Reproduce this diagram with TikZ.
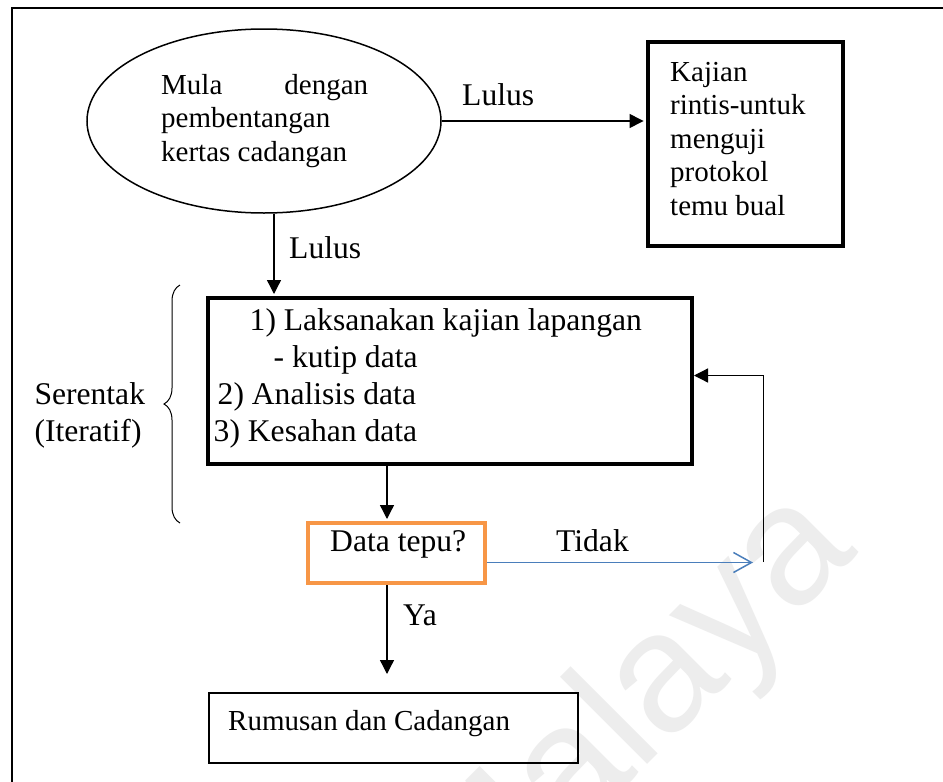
\documentclass[tikz,border=0pt]{standalone}
\usepackage{fontspec}
\setmainfont{Liberation Serif}
\newfontfamily\markfont{Liberation Sans}
\usetikzlibrary{arrows.meta,decorations.pathreplacing,shapes.geometric}
\definecolor{tepuorange}{RGB}{247,150,70}
\definecolor{tidakblue}{RGB}{74,126,187}
\definecolor{markgray}{RGB}{237,237,237}
\newcommand\txtsmall{\fontsize{29}{33.5}\selectfont}
\newcommand\txtlarge{\fontsize{31.6}{37}\selectfont}

\begin{document}
\begin{tikzpicture}[x=1pt,y=-1pt,
  box/.style={draw, rectangle, inner sep=0pt},
  txt/.style={inner sep=0pt, anchor=base west},
  link/.style={line width=1.3pt, -{Triangle[length=14pt,width=14pt]}},
]
\useasboundingbox (0,0) rectangle (943,782);
\fill[white] (0,0) rectangle (943,782);

% faint watermark and page frame
\begin{scope}
  \clip (0,0) rectangle (943,782);
  \node[txt, rotate=45, text=markgray, font=\markfont\fontsize{170}{170}\selectfont] (mark) at (472,940) {Malaya};
  \draw[line width=2pt] (960,7.5) -- (12,7.5) -- (12,800);
\end{scope}

% start: proposal defence
\node[draw, ellipse, line width=1.5pt, minimum width=354pt, minimum height=184pt, inner sep=0pt] (start) at (264,121) {};
\node[txt, font=\txtsmall] (starttext) at (161,94)
  {\parbox[t]{207pt}{\makebox[207pt][l]{Mula\hfill dengan}\\ pembentangan\\ kertas cadangan}};

% pilot study
\node[box, line width=4.5pt, minimum width=195pt, minimum height=204pt] (pilot) at (745.5,144) {};
\node[txt, font=\txtsmall] (pilottext) at (670,81)
  {\parbox[t]{160pt}{Kajian\\ rintis-untuk\\ menguji\\ protokol\\ temu bual}};

% field work
\node[box, line width=4pt, minimum width=484pt, minimum height=166pt] (field) at (450,381) {};
\node[txt, font=\txtlarge] (fieldtext) at (213.5,330)
  {\parbox[t]{460pt}{\hspace*{36pt}1) Laksanakan kajian lapangan\\
   \hspace*{60pt}- kutip data\\
   \hspace*{4pt}2) Analisis data\\
   3) Kesahan data}};

% simultaneous (iterative) brace
\node[txt, font=\txtlarge] (together) at (34.3,404) {\parbox[t]{140pt}{Serentak\\ (Iteratif)}};
\draw[line width=1pt, decorate, decoration={brace, amplitude=16pt}] (180,523) -- (180,285);

% saturation check
\node[box, draw=tepuorange, line width=4pt, minimum width=177pt, minimum height=60pt] (sat) at (396.5,553) {};
\node[txt, font=\txtlarge] (sattext) at (330,551) {Data tepu?};

% conclusions
\node[box, line width=2pt, minimum width=369pt, minimum height=70pt] (result) at (393,728) {};
\node[txt, font=\txtsmall] (resulttext) at (228,730) {Rumusan dan Cadangan};

% helper coordinates for connectors
\coordinate (xa) at (274,0);
\coordinate (xb) at (387,0);
\coordinate (nodata) at (753,562.5);
\coordinate (loopfoot) at (763.3,562);
\coordinate (looptop) at (763.3,375.5);

% connectors
\draw[link, shorten >=2.2pt] (start.east) -- (start.east -| pilot.west);
\draw[link, shorten >=2pt] (start.south -| xa) -- (field.north -| xa);
\draw[link, shorten >=2pt] (field.south -| xb) -- (sat.north -| xb);
\draw[link, shorten >=18pt] (sat.south -| xb) -- (result.north -| xb);
\draw[tidakblue, line width=1.5pt, -{Straight Barb[length=18pt,width=20pt]}] (sat.east |- nodata) -- (nodata);
\draw[link] (loopfoot) -- (looptop) -- (field.east |- looptop);

% connector labels
\node[txt, font=\txtlarge] (passright) at (462,105) {Lulus};
\node[txt, font=\txtlarge] (passdown) at (289,258) {Lulus};
\node[txt, font=\txtlarge] (yes) at (403,625) {Ya};
\node[txt, font=\txtlarge] (no) at (556,551.7) {Tidak};
\end{tikzpicture}
\end{document}
